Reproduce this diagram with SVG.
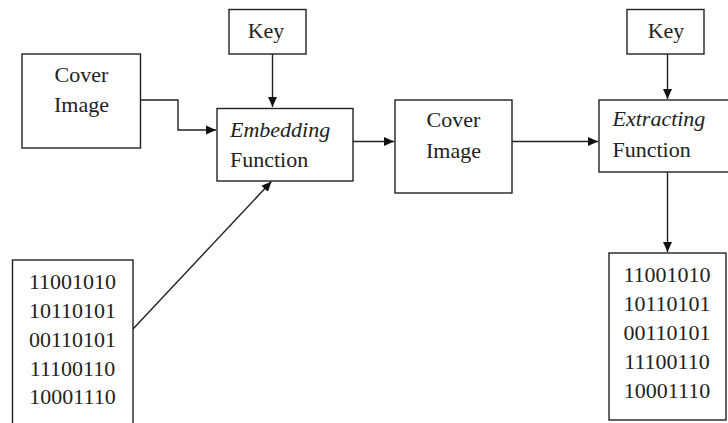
<svg xmlns="http://www.w3.org/2000/svg" width="728" height="423" viewBox="0 0 728 423">
<style>
.box{fill:#fff;stroke:#222;stroke-width:1.4}
text{font-family:'Liberation Serif','DejaVu Serif',serif;font-size:22px;fill:#222}
.c{text-anchor:middle}
.i{font-style:italic}
.ln{fill:none;stroke:#222;stroke-width:1.4}
</style>
<defs>
<marker id="ah" viewBox="0 0 10 10" refX="10" refY="5" markerWidth="10" markerHeight="10" markerUnits="userSpaceOnUse" orient="auto">
<path d="M0,0.5 L10,5 L0,9.5 Z" fill="#111"/>
</marker>
</defs>
<rect width="728" height="423" fill="#fff"/>
<g id="connectors">
<polyline class="ln" points="141,100 178,100 178,130 216,130" marker-end="url(#ah)"/>
<line class="ln" x1="272.5" y1="54" x2="272.5" y2="107" marker-end="url(#ah)"/>
<line class="ln" x1="133" y1="329" x2="271.5" y2="181.5" marker-end="url(#ah)"/>
<line class="ln" x1="353" y1="141.5" x2="394" y2="141.5" marker-end="url(#ah)"/>
<line class="ln" x1="512" y1="141.5" x2="598" y2="141.5" marker-end="url(#ah)"/>
<line class="ln" x1="667.5" y1="54" x2="667.5" y2="99" marker-end="url(#ah)"/>
<line class="ln" x1="667.5" y1="172" x2="667.5" y2="252" marker-end="url(#ah)"/>
</g>
<g id="cover1" font-family="Liberation Serif, serif">
<rect class="box" x="22" y="54" width="118.5" height="94"/>
<text class="c" x="81.5" y="82">Cover</text>
<text class="c" x="81.5" y="111.5">Image</text>
</g>
<g id="key1">
<rect class="box" x="229" y="9.5" width="77" height="44.5"/>
<text class="c" x="266" y="37.5">Key</text>
</g>
<g id="embedding">
<rect class="box" x="217" y="108.5" width="136" height="72.5"/>
<text class="i" x="230" y="137">Embedding</text>
<text x="230" y="166.5">Function</text>
</g>
<g id="cover2">
<rect class="box" x="395" y="100" width="117" height="93"/>
<text class="c" x="453.5" y="127">Cover</text>
<text class="c" x="453.5" y="158">Image</text>
</g>
<g id="key2">
<rect class="box" x="627" y="9.5" width="77" height="44.5"/>
<text class="c" x="666" y="37.5">Key</text>
</g>
<g id="extracting">
<rect class="box" x="599" y="100" width="140" height="72"/>
<text class="i" x="612.5" y="126">Extracting</text>
<text x="612.5" y="156.5">Function</text>
</g>
<g id="data1">
<rect class="box" x="12.5" y="260" width="120.5" height="180"/>
<text class="c" x="72.5" y="289">11001010</text>
<text class="c" x="72.5" y="318">10110101</text>
<text class="c" x="72.5" y="347">00110101</text>
<text class="c" x="72.5" y="375.5">11100110</text>
<text class="c" x="72.5" y="404">10001110</text>
</g>
<g id="data2">
<rect class="box" x="609" y="253" width="117" height="167"/>
<text class="c" x="667" y="282">11001010</text>
<text class="c" x="667" y="311">10110101</text>
<text class="c" x="667" y="340">00110101</text>
<text class="c" x="667" y="369">11100110</text>
<text class="c" x="667" y="398">10001110</text>
</g>
</svg>
